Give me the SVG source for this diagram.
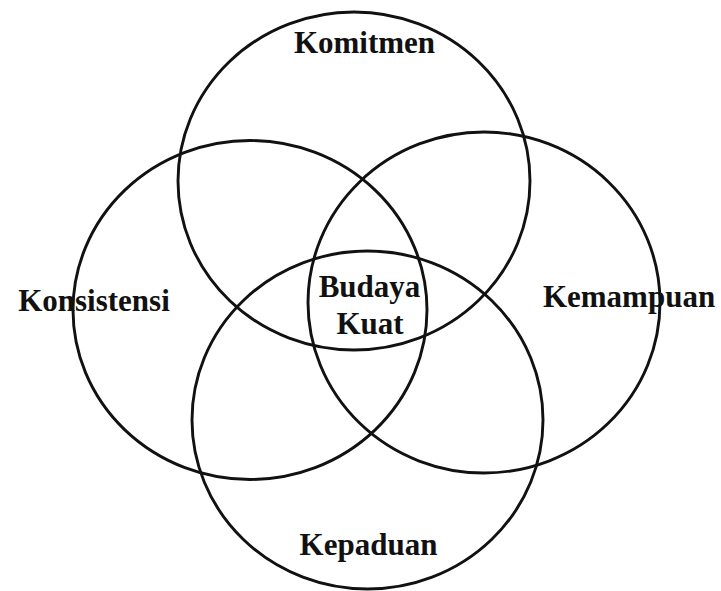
<svg xmlns="http://www.w3.org/2000/svg" width="721" height="591" viewBox="0 0 721 591">
<style>
.c{fill:none;stroke:#111;stroke-width:2.9}
.t{font-family:"Liberation Serif","Times New Roman",serif;font-weight:bold;font-size:31px;fill:#111;text-anchor:middle}
</style>
<rect width="721" height="591" fill="#fff"/>
<g id="komitmen">
<ellipse class="c" cx="354" cy="181" rx="176" ry="169"/>
<text class="t" x="364.5" y="53">Komitmen</text>
</g>
<g id="konsistensi">
<ellipse class="c" cx="250" cy="310" rx="177" ry="169.5"/>
<text class="t" x="94" y="311">Konsistensi</text>
</g>
<g id="kemampuan">
<ellipse class="c" cx="484" cy="302.5" rx="176" ry="170.5"/>
<text class="t" x="629" y="307">Kemampuan</text>
</g>
<g id="kepaduan">
<ellipse class="c" cx="367.5" cy="420" rx="175.5" ry="169"/>
<text class="t" x="368.5" y="555">Kepaduan</text>
</g>
<g id="budaya-kuat">
<text class="t" x="369.5" y="297">Budaya</text>
<text class="t" x="370" y="334">Kuat</text>
</g>
<g id="connectors"></g>
</svg>
